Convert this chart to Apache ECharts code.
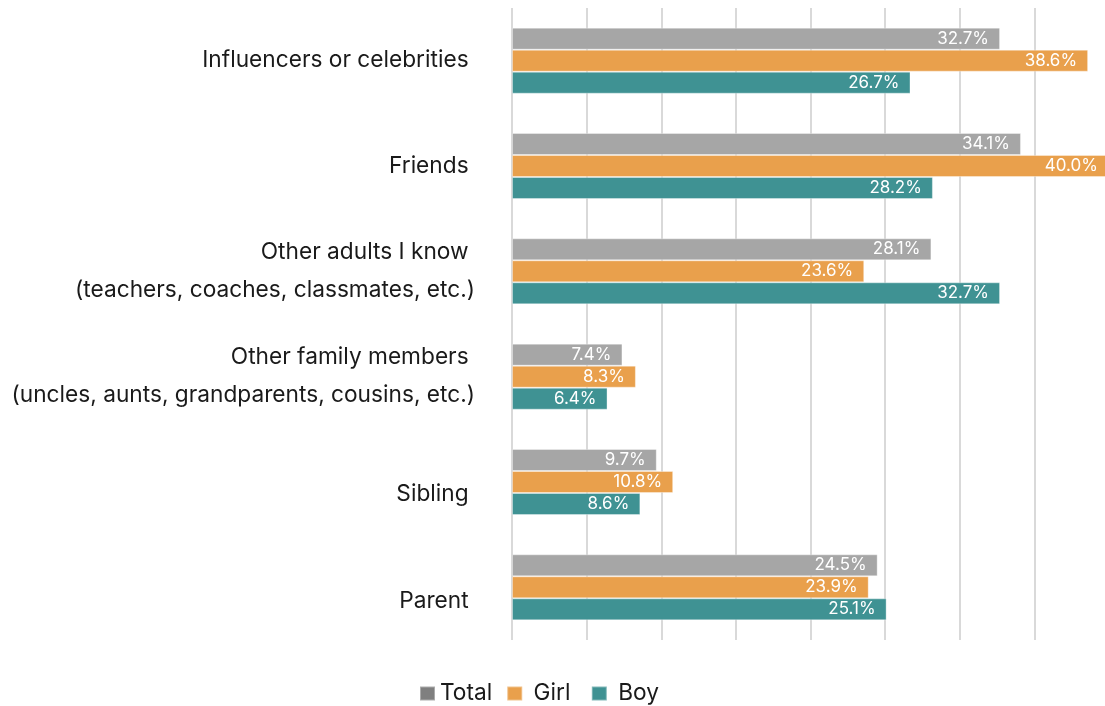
<!DOCTYPE html>
<html>
<head>
<meta charset="utf-8">
<script src="https://cdn.jsdelivr.net/npm/echarts@6/dist/echarts.min.js"></script>
<style>
html,body{margin:0;padding:0;background:#fff;}
#chart{width:1105px;height:706px;}
</style>
</head>
<body>
<div id="chart"></div>
<script>
const categories = [
  "Influencers or celebrities ",
  "Friends ",
  "Other adults I know \n(teachers, coaches, classmates, etc.)",
  "Other family members \n(uncles, aunts, grandparents, cousins, etc.)",
  "Sibling ",
  "Parent "
];
const seriesNames = ["Total", "Girl", "Boy"];
const totalValues = [32.7, 34.1, 28.1, 7.4, 9.7, 24.5];
const girlValues  = [38.6, 40.0, 23.6, 8.3, 10.8, 23.9];
const boyValues   = [26.7, 28.2, 32.7, 6.4, 8.6, 25.1];
const labelOffsets = [0, 0, 0, 0, 24, 28];

const colors = ["#a6a6a6", "#e9a04c", "#3f9293"];
const legendColors = ["#7f7f7f", "#e9a04c", "#3f9293"];

const chart = echarts.init(document.getElementById('chart'));
const values = [totalValues, girlValues, boyValues];

const rich = {};
labelOffsets.forEach((o, i) => {
  rich['r' + i] = { fontFamily: 'Inter', fontSize: 22.7, color: '#1a1a1a', lineHeight: 38, padding: [o, 0, 0, 0], align: 'right' };
});

const option = {
  animation: false,
  grid: { left: 512, width: 597, top: 8, bottom: 66, outerBoundsMode: 'none', containLabel: false },
  legend: {
    left: 414, top: 677,
    itemWidth: 15, itemHeight: 14, itemGap: 14,
    icon: 'rect',
    textStyle: { fontFamily: 'Inter', fontSize: 22.7, color: '#1a1a1a' },
    formatter: function(n){ return n === 'Total' ? n : (n === 'Girl' ? ' Girl ' : ' ' + n); },
    data: seriesNames.map((n, i) => ({ name: n, itemStyle: { color: legendColors[i] } }))
  },
  xAxis: {
    type: 'value', min: 0, max: 40, interval: 5,
    axisLabel: { show: false },
    axisLine: { show: false },
    axisTick: { show: false },
    splitLine: { show: true, lineStyle: { color: '#d9d9d9', width: 2 } }
  },
  yAxis: {
    type: 'category', inverse: true,
    data: categories,
    axisLine: { show: false },
    axisTick: { show: false },
    axisLabel: {
      margin: 37, fontFamily: 'Inter', fontSize: 22.7, color: '#1a1a1a',
      lineHeight: 38, align: 'right',
      formatter: function(v, idx){
        return v.split('\n').map(l => '{r' + idx + '|' + l + '}').join('\n');
      },
      rich: rich
    }
  },
  series: seriesNames.map((n, i) => ({
    name: n, type: 'bar', data: values[i],
    barWidth: 22, barGap: '0%',
    itemStyle: { color: colors[i], borderColor: 'rgba(255,255,255,0.35)', borderWidth: 1 },
    label: {
      show: true, position: 'insideRight', distance: 11,
      color: '#ffffff', fontFamily: 'Inter', fontSize: 17,
      formatter: p => p.value.toFixed(1) + '%'
    }
  }))
};
chart.setOption(option);
</script>
</body>
</html>
